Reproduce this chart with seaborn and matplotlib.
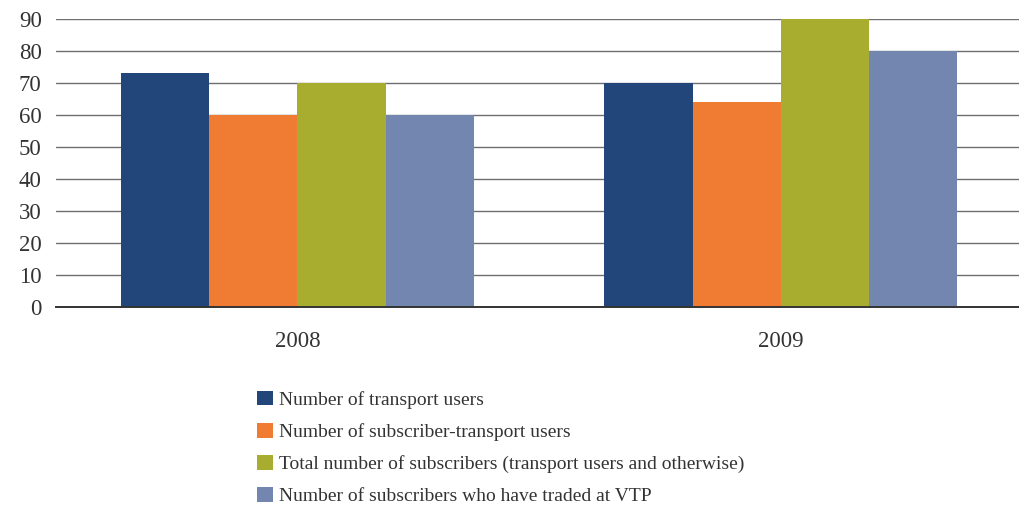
import matplotlib
matplotlib.use("Agg")
import matplotlib.pyplot as plt
from matplotlib.patches import Patch
import seaborn as sns
import pandas as pd

years = ["2008", "2009"]
series = [
    "Number of transport users",
    "Number of subscriber-transport users",
    "Total number of subscribers (transport users and otherwise)",
    "Number of subscribers who have traded at VTP",
]
transport_users = [73, 70]
subscriber_transport_users = [60, 64]
total_subscribers = [70, 90]
traded_at_vtp = [60, 80]
colors = ["#22457A", "#F07C34", "#A8AC2F", "#7386B0"]

values = [transport_users, subscriber_transport_users, total_subscribers, traded_at_vtp]
rows = []
for name, vals in zip(series, values):
    for yr, v in zip(years, vals):
        rows.append({"year": yr, "series": name, "value": v})
df = pd.DataFrame(rows)

sns.set_theme(style="white")
plt.rcParams["font.family"] = ["Liberation Serif", "DejaVu Serif"]

fig = plt.figure(figsize=(10.2, 5.16), dpi=100)
ax = fig.add_axes([0.0545, 0.405, 0.948, 0.559])

sns.barplot(data=df, x="year", y="value", hue="series", hue_order=series,
            order=years, palette=colors, width=0.73, saturation=1,
            linewidth=0, ax=ax, legend=False, zorder=3)

ax.set_ylim(0, 90)
ax.set_xlim(-0.5, 1.5)
ax.set_yticks(range(0, 91, 10))
ax.yaxis.grid(True, color="#6E6E6E", linewidth=1.0, zorder=0)
ax.set_axisbelow(True)
ax.set_xlabel("")
ax.set_ylabel("")
for s in ["top", "right", "left"]:
    ax.spines[s].set_visible(False)
ax.spines["bottom"].set_color("#333333")
ax.spines["bottom"].set_linewidth(1.4)
ax.spines["bottom"].set_zorder(4)
ax.tick_params(axis="both", length=0, labelsize=16.5, colors="#333333")
ax.tick_params(axis="y", pad=10)
ax.tick_params(axis="x", pad=17)

handles = [Patch(facecolor=c, edgecolor="none") for c in colors]
fig.legend(handles, series, loc="upper left", bbox_to_anchor=(0.252, 0.243),
           frameon=False, fontsize=14, handlelength=0.8, handleheight=0.8,
           handletextpad=0.35, labelspacing=0.72, borderpad=0, borderaxespad=0,
           labelcolor="#333333")

fig.savefig("out.png", dpi=100, facecolor="white")
